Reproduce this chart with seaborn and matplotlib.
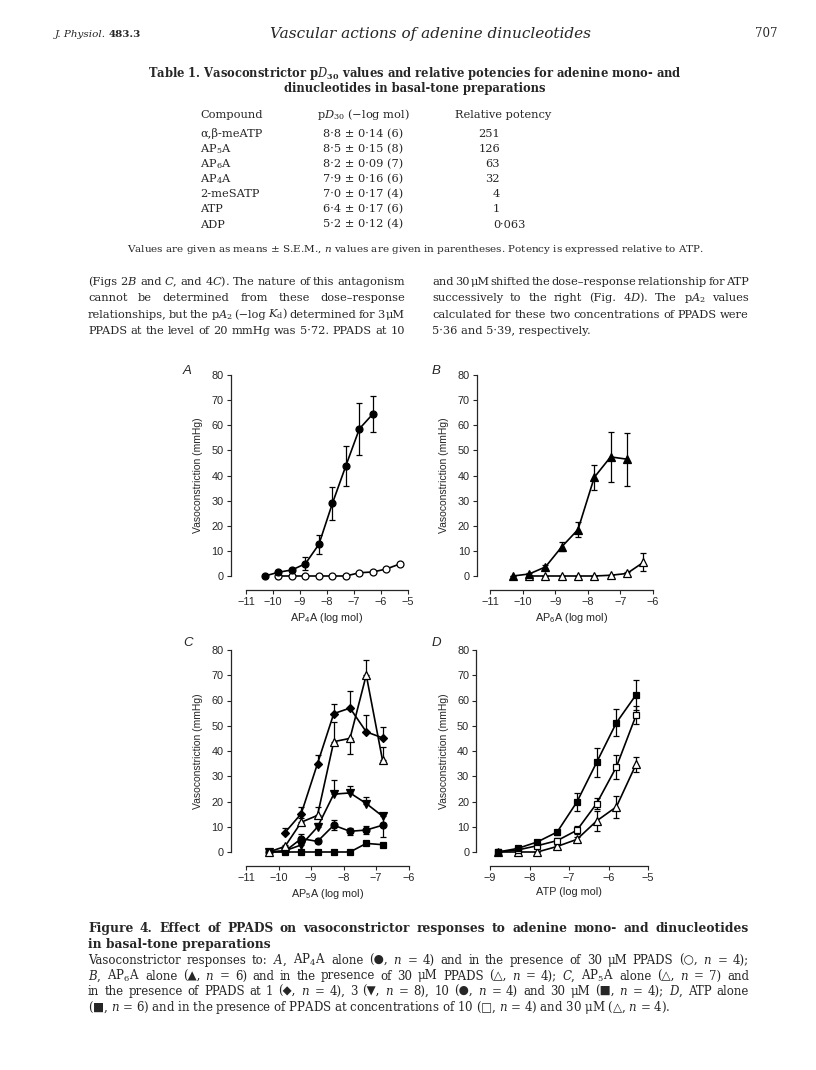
import matplotlib
matplotlib.use('Agg')
import matplotlib.pyplot as plt
import seaborn as sns

# ---- Table 1 ----
compounds = ['α,β-meATP', 'AP$_5$A', 'AP$_6$A', 'AP$_4$A', '2-meSATP', 'ATP', 'ADP']
pd30 = [8.8, 8.5, 8.2, 7.9, 7.0, 6.4, 5.2]
pd30_sem = [0.14, 0.15, 0.09, 0.16, 0.17, 0.17, 0.12]
pd30_n = [6, 8, 7, 6, 4, 6, 4]
potency = ['251', '126', '63', '32', '4', '1', '0·063']

# ---- Fig 4A: AP4A alone / + 30 uM PPADS ----
a_x = [-10.3, -9.8, -9.3, -8.8, -8.3, -7.8, -7.3, -6.8, -6.3]
a_alone = [0, 1.5, 2.4, 4.9, 12.6, 28.9, 43.9, 58.6, 64.5]
a_alone_sem = [0, 0.5, 0.8, 2.5, 3.8, 6.6, 8.0, 10.4, 7.1]
a_ppads_x = [-9.8, -9.3, -8.8, -8.3, -7.8, -7.3, -6.8, -6.3, -5.8, -5.3]
a_ppads = [0, 0, 0, 0, 0, 0, 1.3, 1.6, 2.8, 4.8]

# ---- Fig 4B: AP6A alone / + 30 uM PPADS ----
b_x = [-10.3, -9.8, -9.3, -8.8, -8.3, -7.8, -7.3, -6.8]
b_alone = [0, 0.8, 3.6, 11.6, 18.5, 39.3, 47.4, 46.5]
b_alone_sem = [0, 0.4, 0.8, 1.8, 2.8, 5.0, 9.8, 10.5]
b_ppads_x = [-9.8, -9.3, -8.8, -8.3, -7.8, -7.3, -6.8, -6.3]
b_ppads = [0, 0, 0, 0, 0, 0.3, 1.0, 5.4]
b_ppads_sem = [0, 0, 0, 0, 0, 0, 0.5, 3.6]

# ---- Fig 4C: AP5A alone / + PPADS 1, 3, 10, 30 uM ----
c_x = [-10.3, -9.8, -9.3, -8.8, -8.3, -7.8, -7.3, -6.8]
c_alone = [0, 2.2, 11.8, 14.5, 43.7, 45.0, 70.1, 36.4]
c_alone_up = [0, 0.5, 1.5, 3.4, 7.8, 0, 6.0, 5.0]
c_alone_dn = [0, 0, 0, 0, 0, 6.0, 0, 0]
c_1um_x = [-9.8, -9.3, -8.8, -8.3, -7.8, -7.3, -6.8]
c_1um = [7.7, 15.2, 35.0, 54.8, 57.0, 47.6, 45.2]
c_1um_up = [1.8, 2.8, 3.6, 3.8, 6.7, 6.5, 4.4]
c_3um = [0, 0.5, 2.8, 9.9, 22.9, 23.4, 19.2, 14.2]
c_3um_up = [0, 0, 0.8, 1.5, 5.5, 2.8, 2.6, 1.0]
c_10um = [0, 0.3, 5.3, 4.2, 10.6, 8.2, 8.7, 10.6]
c_10um_sem = [0, 0, 1.7, 0.8, 2.0, 1.5, 1.5, 4.8]
c_30um = [0, 0, 0, 0, 0, 0, 3.4, 2.9]

# ---- Fig 4D: ATP alone / + PPADS 10, 30 uM ----
d_x = [-8.8, -8.3, -7.8, -7.3, -6.8, -6.3, -5.8, -5.3]
d_alone = [0, 1.4, 4.0, 7.9, 19.8, 35.5, 51.2, 62.3]
d_alone_sem = [0, 0.5, 0.8, 1.0, 3.5, 5.7, 5.3, 5.9]
d_10um = [0, 0.8, 2.5, 4.5, 8.6, 19.2, 33.7, 54.2]
d_10um_sem = [0, 0, 0.5, 1.0, 1.5, 2.2, 4.9, 3.5]
d_30um = [0, 0, 0, 2.2, 5.0, 12.3, 17.9, 34.8]
d_30um_sem = [0, 0, 0, 0.5, 1.0, 3.8, 4.3, 3.0]

sns.set_style('ticks')
plt.rcParams['font.family'] = ['Liberation Sans', 'DejaVu Sans']
plt.rcParams['mathtext.fontset'] = 'dejavuserif'
plt.rcParams['mathtext.default'] = 'regular'

W, H = 816, 1070
fig = plt.figure(figsize=(W / 100, H / 100), dpi=100)
rend = fig.canvas.get_renderer()
SERIF = ['DejaVu Serif', 'DejaVu Sans']


def put(x, y, s, **kw):
    kw.setdefault('va', 'baseline')
    kw.setdefault('family', SERIF)
    return fig.text(x / W, 1 - y / H, s, **kw)


def justify(line, x0, x1, y, **kw):
    words = line.split(' ')
    texts = [put(x0, y, w, **kw) for w in words]
    widths = [t.get_window_extent(rend).width for t in texts]
    gap = (x1 - x0 - sum(widths)) / max(len(words) - 1, 1)
    x = x0
    for t, w in zip(texts, widths):
        t.set_x(x / W)
        x += w + gap


# header
t = put(55, 37, 'J. Physiol.', size=7.5, style='italic')
put(55 + t.get_window_extent(rend).width + 3, 37, '483.3', size=7.5, weight='bold')
put(430, 38, 'Vascular actions of adenine dinucleotides', size=11, style='italic', ha='center')
put(778, 37, '707', size=8.5, ha='right')

# table 1
put(415, 77, r'Table 1. Vasoconstrictor p$\mathit{D}_{30}$ values and relative potencies for adenine mono- and',
    size=8.3, weight='bold', ha='center')
put(415, 92, 'dinucleotides in basal-tone preparations', size=8.3, weight='bold', ha='center')
put(200, 118, 'Compound', size=8.2)
put(363, 118, r'p$\mathit{D}_{30}$ (−log mol)', size=8.2, ha='center')
put(503, 118, 'Relative potency', size=8.2, ha='center')
for i in range(len(compounds)):
    y = 137 + i * 15.1
    put(200, y, compounds[i], size=8.2)
    val = f'{pd30[i]:.1f} ± {pd30_sem[i]:.2f} ({pd30_n[i]})'.replace('.', '·')
    put(363, y, val, size=8.2, ha='center')
    whole = potency[i].split('·')
    put(500, y, whole[0], size=8.2, ha='right')
    if len(whole) > 1:
        put(500, y, '·' + whole[1], size=8.2)
put(416, 252, 'Values are given as means ± S.E.M., $\\mathit{n}$ values are given in parentheses. '
    'Potency is expressed relative to ATP.', size=7.5, ha='center')

# two-column paragraph
left_col = [
    r'(Figs 2$\mathit{B}$ and $\mathit{C}$, and 4$\mathit{C}$). The nature of this antagonism',
    'cannot be determined from these dose–response',
    r'relationships, but the p$\mathit{A}_2$ (−log $\mathit{K}_d$) determined for 3 μM',
    'PPADS at the level of 20 mmHg was 5·72. PPADS at 10',
]
right_col = [
    'and 30 μM shifted the dose–response relationship for ATP',
    r'successively to the right (Fig. 4$\mathit{D}$). The p$\mathit{A}_2$ values',
    'calculated for these two concentrations of PPADS were',
]
for i, line in enumerate(left_col):
    justify(line, 88, 405, 285 + i * 16.3, size=8.2)
for i, line in enumerate(right_col):
    justify(line, 432, 749, 285 + i * 16.3, size=8.2)
put(432, 285 + 3 * 16.3, '5·36 and 5·39, respectively.', size=8.2)

# caption
justify('Figure 4. Effect of PPADS on vasoconstrictor responses to adenine mono- and dinucleotides',
        88, 749, 932, size=8.8, weight='bold')
put(88, 948, 'in basal-tone preparations', size=8.8, weight='bold')
cap = [
    r'Vasoconstrictor responses to: $\mathit{A}$, AP$_4$A alone (●, $\mathit{n}$ = 4) and in the presence of 30 μM PPADS (○, $\mathit{n}$ = 4);',
    r'$\mathit{B}$, AP$_6$A alone (▲, $\mathit{n}$ = 6) and in the presence of 30 μM PPADS (△, $\mathit{n}$ = 4); $\mathit{C}$, AP$_5$A alone (△, $\mathit{n}$ = 7) and',
    r'in the presence of PPADS at 1 (◆, $\mathit{n}$ = 4), 3 (▼, $\mathit{n}$ = 8), 10 (●, $\mathit{n}$ = 4) and 30 μM (■, $\mathit{n}$ = 4); $\mathit{D}$, ATP alone',
]
for i, line in enumerate(cap):
    justify(line, 88, 749, 964 + i * 15.5, size=8.5)
put(88, 964 + 3 * 15.5, r'(■, $\mathit{n}$ = 6) and in the presence of PPADS at concentrations of 10 (□, $\mathit{n}$ = 4) and 30 μM (△, $\mathit{n}$ = 4).',
    size=8.5)


# ---- panels ----
def series(ax, x, y, marker, filled, lo=None, hi=None, ms=5):
    if hi is not None:
        ax.errorbar(x, y, yerr=[lo, hi], fmt='none', ecolor='black', elinewidth=0.9,
                    capsize=2.3, capthick=0.9, clip_on=False, zorder=2)
    sns.lineplot(x=x, y=y, ax=ax, color='black', marker=marker, markersize=ms,
                 markerfacecolor='black' if filled else 'white', markeredgecolor='black',
                 markeredgewidth=0.9, linewidth=1.2, clip_on=False, zorder=3, errorbar=None)


def style(ax, xmin, xmax, xlabel, left_off):
    ax.set_xlim(xmin, xmax)
    ax.set_ylim(0, 80)
    ax.set_xticks(range(xmin, xmax + 1))
    ax.set_yticks(range(0, 81, 10))
    sns.despine(ax=ax, offset={'left': left_off, 'bottom': 10})
    ax.set_xlabel(xlabel, fontsize=7.8, labelpad=3)
    ax.set_ylabel('Vasoconstriction (mmHg)', fontsize=7.5, labelpad=6)
    ax.tick_params(length=3, width=0.8, labelsize=7.8, pad=2)
    for s in ax.spines.values():
        s.set_linewidth(0.9)


axA = fig.add_axes([246 / W, 1 - 576 / H, 162 / W, 201 / H])
axB = fig.add_axes([490 / W, 1 - 576 / H, 163 / W, 201 / H])
axC = fig.add_axes([246 / W, 1 - 852 / H, 162.5 / W, 202 / H])
axD = fig.add_axes([490 / W, 1 - 852 / H, 158 / W, 202 / H])

series(axA, a_ppads_x, a_ppads, 'o', False)
series(axA, a_x, a_alone, 'o', True, a_alone_sem, a_alone_sem)
style(axA, -11, -5, 'AP$_4$A (log mol)', 11)

series(axB, b_ppads_x, b_ppads, '^', False, b_ppads_sem, b_ppads_sem, ms=5.5)
series(axB, b_x, b_alone, '^', True, b_alone_sem, b_alone_sem, ms=5.5)
style(axB, -11, -6, 'AP$_6$A (log mol)', 9.5)

zero = [0] * len(c_x)
series(axC, c_x, c_30um, 's', True, ms=4.5)
series(axC, c_x, c_10um, 'o', True, c_10um_sem, c_10um_sem, ms=5)
series(axC, c_x, c_3um, 'v', True, zero, c_3um_up, ms=5.5)
series(axC, c_x, c_alone, '^', False, c_alone_dn, c_alone_up, ms=5.5)
series(axC, c_1um_x, c_1um, 'D', True, [0] * len(c_1um_x), c_1um_up, ms=3.8)
style(axC, -11, -6, 'AP$_5$A (log mol)', 11)

series(axD, d_x, d_30um, '^', False, d_30um_sem, d_30um_sem, ms=5.5)
series(axD, d_x, d_10um, 's', False, d_10um_sem, d_10um_sem, ms=4.8)
series(axD, d_x, d_alone, 's', True, d_alone_sem, d_alone_sem, ms=4.8)
style(axD, -9, -5, 'ATP (log mol)', 10)

for lab, x, y in [('A', 183, 374), ('B', 432, 374), ('C', 183, 646), ('D', 432, 646)]:
    put(x, y, lab, size=9.5, style='italic', family=['Liberation Sans'])

fig.savefig('out.png', dpi=100)
